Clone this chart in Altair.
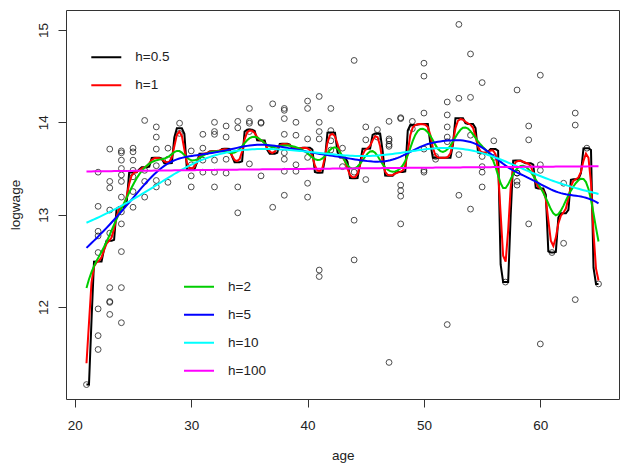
import numpy as np
import pandas as pd
import altair as alt

# ---- scatter data (age, logwage) ----
age = (
    [21]
    + [22] * 8 + [23] * 9 + [24] * 12 + [25] * 7 + [26] * 4 + [27] * 6
    + [28] * 3 + [29] * 2 + [30] * 4 + [31] * 4 + [32] * 6 + [33] * 4
    + [34] * 4 + [35] * 5 + [36] * 3 + [37] * 3 + [38] * 8 + [39] * 4
    + [40] * 6 + [41] * 6 + [42] * 4 + [43] * 2 + [44] * 4 + [45] * 3
    + [46] * 2 + [47] * 6 + [48] * 6 + [49] * 2 + [50] * 6 + [51] * 2
    + [52] * 6 + [53] * 4 + [54] * 4 + [55] * 5 + [56] * 2 + [57] * 1
    + [58] * 5 + [59] * 3 + [60] * 4 + [61] * 1 + [62] * 2 + [63] * 3
    + [64] * 1 + [65] * 1
)
logwage = [
    11.16,
    13.46, 13.09, 12.82, 12.77, 12.59, 11.98, 11.69, 11.54,
    13.71, 13.36, 13.29, 13.05, 12.80, 12.21, 12.06, 12.05, 11.92,
    13.69, 13.67, 13.59, 13.50, 13.43, 13.36, 13.19, 13.03, 12.90, 12.60, 12.21, 11.83,
    13.72, 13.68, 13.59, 13.48, 13.41, 13.25, 13.08,
    14.02, 13.48, 13.36, 13.19,
    13.95, 13.84, 13.71, 13.53, 13.37, 13.30,
    13.72, 13.60, 13.35,
    13.99, 13.88,
    13.69, 13.54, 13.42, 13.30,
    13.87, 13.72, 13.59, 13.46,
    14.00, 13.90, 13.87, 13.59, 13.46, 13.30,
    13.96, 13.84, 13.60, 13.45,
    14.01, 13.94, 13.30, 13.02,
    14.15, 14.01, 13.99, 13.90, 13.55,
    14.00, 13.99, 13.42,
    14.20, 13.70, 13.08,
    14.15, 14.13, 14.04, 13.87, 13.67, 13.60, 13.47, 13.21,
    14.00, 13.86, 13.54, 13.47,
    14.23, 14.15, 13.82, 13.62, 13.34, 13.19,
    14.28, 14.00, 13.90, 13.82, 12.40, 12.33,
    14.15, 13.91, 13.80, 13.70,
    13.72, 13.52,
    14.67, 13.46, 12.94, 12.51,
    13.95, 13.81, 13.38,
    13.92, 13.84,
    14.01, 13.82, 13.80, 13.76, 13.74, 11.40,
    14.05, 14.04, 13.32, 13.26, 13.20, 12.90,
    14.01, 13.93,
    14.64, 14.50, 14.10, 13.71, 13.48, 13.46,
    13.63, 13.60,
    14.22, 14.08, 13.95, 13.84, 13.79, 11.81,
    15.06, 14.26, 13.65, 13.21,
    14.74, 14.27, 13.86, 13.06,
    14.43, 13.63, 13.52, 13.46, 13.30,
    13.80, 13.62,
    12.27,
    14.35, 13.45, 13.45, 13.36, 13.32,
    13.96, 13.81, 12.90,
    14.51, 13.54, 13.48, 11.60,
    12.59,
    13.34, 12.69,
    14.10, 13.97, 12.08,
    13.72,
    12.25,
]

# ---- kernel smoothers (as in R's ksmooth, normal kernel) ----
bandwidths = [0.5, 1, 2, 5, 10, 100]
labels = ["h=0.5", "h=1", "h=2", "h=5", "h=10", "h=100"]
colors = ["#000000", "#FF0000", "#00CD00", "#0000FF", "#00FFFF", "#FF00FF"]
x_ticks = [20, 30, 40, 50, 60]
y_ticks = [12, 13, 14, 15]

xa = np.array(age, dtype=float)
ya = np.array(logwage, dtype=float)
n_points = 205


def ksmooth(h):
    grid = np.linspace(xa.min(), xa.max(), n_points)
    bw = 0.3706506 * h
    cut = 4 * bw
    out = []
    for g in grid:
        d = np.abs(xa - g)
        w = np.where(d < cut, np.exp(-0.5 * (d / bw) ** 2), 0.0)
        out.append((w * ya).sum() / w.sum())
    return grid, np.array(out)


curves = {}
for h, lab in zip(bandwidths, labels):
    gx, gy = ksmooth(h)
    curves[lab] = pd.DataFrame({"age": gx, "logwage": gy, "h": lab})

pts = pd.DataFrame({"age": age, "logwage": logwage})

FONT = "Liberation Sans"
FS = 13.5

xenc = alt.X(
    "age:Q",
    scale=alt.Scale(domain=[19.24, 66.76], nice=False, zero=False),
    axis=alt.Axis(
        values=x_ticks, title="age", labelBaseline="top", labelPadding=11,
        titleX=276.8, titleY=60.5, titleBaseline="alphabetic", titleAlign="center",
    ),
)
yenc = alt.Y(
    "logwage:Q",
    scale=alt.Scale(domain=[11.004, 15.216], nice=False, zero=False),
    axis=alt.Axis(
        values=y_ticks, title="logwage", labelAngle=270, labelAlign="center",
        labelBaseline="alphabetic", labelPadding=11,
        titleAngle=270, titleX=-50.5, titleY=194.5, titleAlign="center",
        titleBaseline="middle",
    ),
)

points = alt.Chart(pts).mark_point(
    shape="circle", filled=False, color="#000000", size=34, strokeWidth=1
).encode(x=xenc, y=yenc)


def line_layer(lab, domain, rng, legend):
    return alt.Chart(curves[lab]).mark_line(strokeWidth=2, clip=True).encode(
        x=xenc, y=yenc,
        color=alt.Color("h:N", scale=alt.Scale(domain=domain, range=rng), legend=legend),
    )


leg_common = dict(
    orient="none", title=None, symbolType="stroke", symbolSize=900,
    symbolStrokeWidth=2, labelFont=FONT, labelFontSize=FS, labelColor="#222222",
    labelOffset=13, rowPadding=0, clipHeight=27.5, padding=0,
)
legA = alt.Legend(legendX=24.3, legendY=33.5, **leg_common)
legB = alt.Legend(legendX=117.0, legendY=263.0, **leg_common)

domA, rngA = labels[:2], colors[:2]
domB, rngB = labels[2:], colors[2:]

groupA = alt.layer(*[line_layer(l, domA, rngA, legA) for l in domA])
groupB = alt.layer(*[line_layer(l, domB, rngB, legB) for l in domB])

chart = (
    alt.layer(points, groupA, groupB)
    .resolve_scale(color="independent")
    .properties(
        width=553, height=389,
        padding={"left": 58, "top": 2, "right": 1, "bottom": 64},
        autosize=alt.AutoSizeParams(type="none"),
        background="white",
    )
    .configure_view(stroke="#333333", strokeWidth=1)
    .configure_axis(
        domain=False, grid=False, tickColor="#333333", tickSize=8, tickWidth=1,
        labelFont=FONT, labelFontSize=FS, labelColor="#222222",
        titleFont=FONT, titleFontSize=FS, titleColor="#222222", titleFontWeight="normal",
    )
)

chart.save("out.html", embed_options={"renderer": "svg", "actions": False})
